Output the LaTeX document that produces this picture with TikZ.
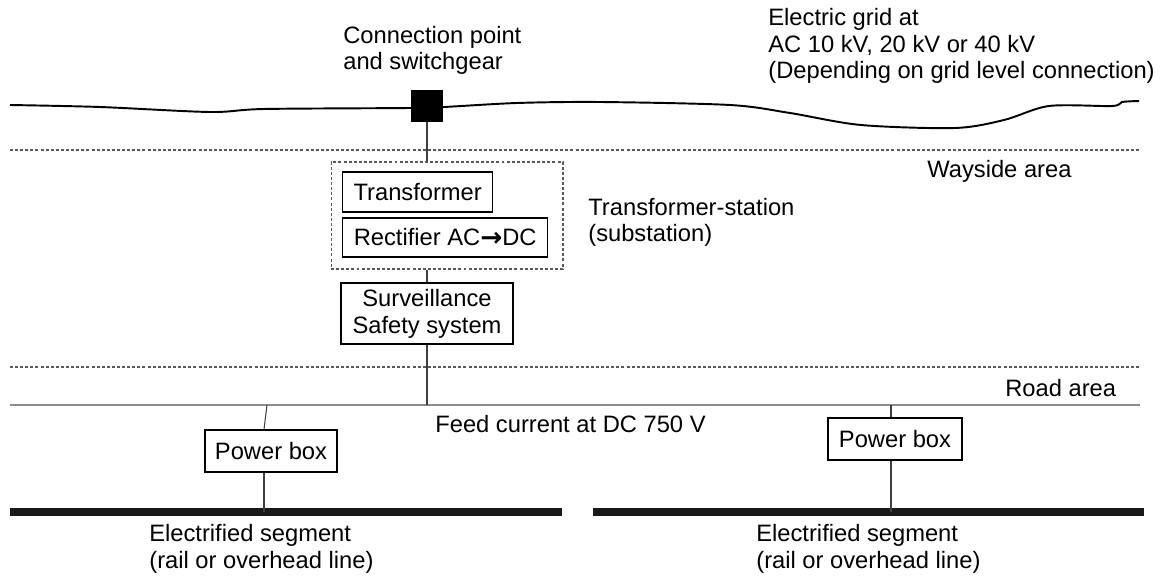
\documentclass[tikz,border=0pt]{standalone}
\usepackage{fontspec}
\setmainfont{Liberation Sans}
\newfontfamily\arrowfont{DejaVu Sans}

\tikzset{
    box/.style={draw, line width=0.8pt, inner sep=0pt, align=center},
    txt/.style={anchor=base west, inner sep=0pt, align=left},
    wire/.style={line width=0.6pt, black!75},
    arealine/.style={line width=0.6pt, black!65, dash pattern=on 1.7pt off 1.2pt},
    roadline/.style={line width=1.1pt, black!45},
    railline/.style={line width=4pt, black!90}
}

\begin{document}
\begin{tikzpicture}[x=0.02cm, y=-0.02cm, font=\fontsize{13.5}{15.3}\selectfont]

    \useasboundingbox (0, 0) rectangle (1168, 577);

    % Grid line with the connection point
    \draw[line width=1.1pt] plot[smooth, tension=0.5] coordinates {(10, 105) (100, 107) (210, 112) (264, 109) (410, 108) (444, 107) (517, 103) (600, 102) (730, 105) (790, 113) (861, 125) (955, 128) (1004, 120) (1049, 106) (1112, 106) (1122, 102) (1139, 101)};
    \node[fill=black, minimum size=0.64cm, inner sep=0pt] (sw) at (427, 106) {};

    % Borders of the areas
    \draw[arealine] (10, 150) -- (1140, 150);
    \draw[arealine] (10, 367) -- (1140, 367);

    % Substation
    \node[arealine, draw, minimum width=4.64cm, minimum height=2.14cm] (station) at (447, 215.5) {};
    \node[box, anchor=west, minimum width=3cm, minimum height=0.8cm] (trafo) at (342, 192) {Transformer};
    \node[box, anchor=west, minimum width=4.1cm, minimum height=0.78cm] (rect) at (342, 237.5) {Rectifier AC\raisebox{-0.2pt}{\arrowfont\bfseries\fontsize{15}{15}\selectfont →}DC};
    \node[box, minimum width=3.44cm, minimum height=1.22cm] (safety) at (427, 313.5) {Surveillance\\Safety system};

    \draw[wire] (sw.south) -- (sw.south |- station.north);
    \draw[wire] (sw |- station.south) -- (safety.north);

    % Feed line along the road
    \coordinate (roadL) at (10, 405);
    \coordinate (roadR) at (1140, 405);
    \coordinate (feed) at (427, 405);
    \draw[roadline] (roadL) -- (roadR);
    \draw[wire] (safety.south) -- (feed);

    % Power boxes and electrified segments
    \node[box, minimum width=2.64cm, minimum height=0.84cm] (pbL) at (271, 451) {Power box};
    \node[box, minimum width=2.68cm, minimum height=0.84cm] (pbR) at (895, 439) {Power box};

    \coordinate (tapL) at (267, 405);
    \coordinate (tapR) at (891, 405);
    \coordinate (railL) at (264, 512);
    \coordinate (railR) at (891, 512);

    \draw[railline] (10, 512) -- (562, 512);
    \draw[railline] (593, 512) -- (1144, 512);

    \draw[wire] (tapL) -- (pbL.north -| railL);
    \draw[wire] (pbL.south -| railL) -- (railL);
    \draw[wire] (tapR) -- (pbR.north -| railR);
    \draw[wire] (pbR.south -| railR) -- (railR);

    % Texts (base is the last line)
    \node[txt] (conn) at (343, 70) {Connection point\\and switchgear};
    \node[txt] (grid) at (768, 79) {Electric grid at\\AC 10 kV, 20 kV or 40 kV\\(Depending on grid level connection)};
    \node[txt] (stlabel) at (588, 242) {Transformer-station\\(substation)};
    \node[txt] (wayside) at (927, 178) {Wayside area};
    \node[txt] (road) at (1005, 396) {Road area};
    \node[txt] (dc) at (435, 432) {Feed current at DC 750 V};
    \node[txt] (segL) at (149, 568) {Electrified segment\\(rail or overhead line)};
    \node[txt] (segR) at (756, 568) {Electrified segment\\(rail or overhead line)};

\end{tikzpicture}
\end{document}
